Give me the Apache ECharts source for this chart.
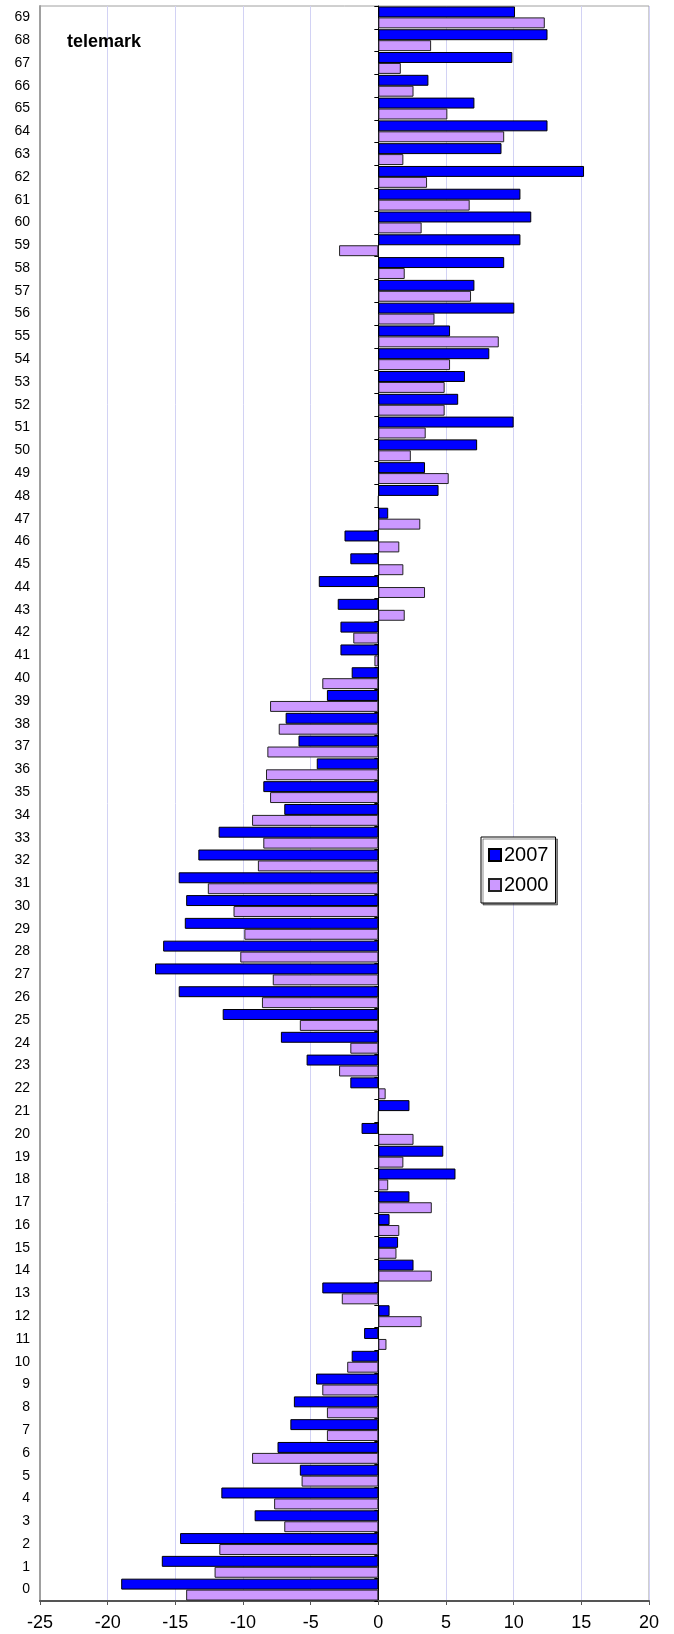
<!DOCTYPE html>
<html>
<head>
<meta charset="utf-8">
<title>telemark</title>
<script src="https://cdn.jsdelivr.net/npm/echarts@6/dist/echarts.min.js"></script>
<style>
  html, body { margin: 0; padding: 0; background: #fff; }
  #chart { width: 674px; height: 1634px; }
</style>
</head>
<body>
<div id="chart"></div>
<script>
// 类目 0..69（自下而上）
const categories = ['0','1','2','3','4','5','6','7','8','9',
  '10','11','12','13','14','15','16','17','18','19',
  '20','21','22','23','24','25','26','27','28','29',
  '30','31','32','33','34','35','36','37','38','39',
  '40','41','42','43','44','45','46','47','48','49',
  '50','51','52','53','54','55','56','57','58','59',
  '60','61','62','63','64','65','66','67','68','69'];

// 2007
const values2007 = [-19.0, -16.0, -14.65, -9.14, -11.6, -5.8, -7.45, -6.5, -6.24, -4.6,
  -1.97, -1.05, 0.83, -4.14, 2.6, 1.46, 0.83, 2.3, 5.7, 4.8,
  -1.24, 2.3, -2.07, -5.3, -7.2, -11.5, -14.75, -16.5, -15.9, -14.3,
  -14.2, -14.75, -13.3, -11.8, -6.95, -8.5, -4.55, -5.9, -6.85, -3.8,
  -1.97, -2.8, -2.8, -3.0, -4.4, -2.07, -2.5, 0.73, 4.45, 3.45,
  7.3, 10.0, 5.9, 6.4, 8.2, 5.3, 10.05, 7.1, 9.3, 10.5,
  11.3, 10.5, 15.2, 9.1, 12.5, 7.1, 3.7, 9.9, 12.5, 10.1];

// 2000
const values2000 = [-14.2, -12.1, -11.75, -6.95, -7.7, -5.67, -9.33, -3.8, -3.8, -4.14,
  -2.3, 0.6, 3.2, -2.7, 3.95, 1.34, 1.55, 3.95, 0.73, 1.85,
  2.6, 0, 0.54, -2.9, -2.07, -5.8, -8.6, -7.8, -10.2, -9.9,
  -10.7, -12.6, -8.9, -8.5, -9.33, -8.0, -8.3, -8.2, -7.36, -8.0,
  -4.14, -0.29, -1.85, 1.95, 3.45, 1.85, 1.55, 3.1, 0, 5.2,
  2.4, 3.5, 4.9, 4.9, 5.3, 8.9, 4.15, 6.85, 1.95, -2.9,
  3.2, 6.75, 3.6, 1.85, 9.3, 5.1, 2.6, 1.66, 3.9, 12.3];

const seriesNames = ['2007', '2000'];
const xTicks = { min: -25, max: 20, interval: 5 };

(function(){
  const FONT = '"Liberation Sans", Arial, sans-serif';
  const chart = echarts.init(document.getElementById('chart'), null, {renderer: 'canvas'});

  const option = {
    backgroundColor: '#fff',
    animation: false,
    title: {
      text: 'telemark',
      left: 62, top: 28,
      textStyle: {fontFamily: FONT, fontSize: 18, fontWeight: 'bold', color: '#000'}
    },
    legend: {
      data: seriesNames,
      orient: 'vertical',
      left: 481, top: 837,
      padding: [8, 7, 8, 7],
      itemWidth: 12, itemHeight: 12, itemGap: 10,
      icon: 'rect',
      backgroundColor: '#fff',
      borderColor: '#000', borderWidth: 1,
      shadowColor: 'rgba(0,0,0,0.45)', shadowBlur: 0, shadowOffsetX: 2, shadowOffsetY: 2,
      textStyle: {fontFamily: FONT, fontSize: 20, color: '#000', padding: [0, 0, 0, -2]}
    },
    grid: {
      left: 40, right: 25, top: 6, bottom: 33,
      show: true, borderColor: '#a0a0a0', borderWidth: 1
    },
    xAxis: {
      type: 'value',
      min: xTicks.min, max: xTicks.max, interval: xTicks.interval,
      axisLine: {show: true, onZero: false, lineStyle: {color: '#555', width: 2}},
      axisTick: {show: true, length: 4, lineStyle: {color: '#555'}},
      axisLabel: {fontFamily: FONT, fontSize: 18, color: '#000', margin: 13},
      splitLine: {show: true, lineStyle: {color: '#d2d2f4', width: 1}}
    },
    yAxis: [
      {
        // 左侧标签
        type: 'category',
        data: categories,
        position: 'left',
        axisLine: {show: true, onZero: false, lineStyle: {color: '#a0a0a0', width: 2}},
        axisTick: {show: false},
        axisLabel: {fontFamily: FONT, fontSize: 14, color: '#000', margin: 10, interval: 0},
        splitLine: {show: false}
      },
      {
        // 零线及刻度
        type: 'category',
        data: categories,
        position: 'left',
        axisLine: {show: true, onZero: true, lineStyle: {color: '#000', width: 1}},
        axisTick: {show: true, length: 4, interval: 0, lineStyle: {color: '#000'}},
        axisLabel: {show: false},
        splitLine: {show: false}
      }
    ],
    series: [
      {
        name: seriesNames[0],
        type: 'bar',
        data: values2007,
        barGap: '0%',
        barCategoryGap: '4%',
        itemStyle: {color: '#0000ff', borderColor: '#000', borderWidth: 1}
      },
      {
        name: seriesNames[1],
        type: 'bar',
        data: values2000,
        barGap: '0%',
        barCategoryGap: '4%',
        itemStyle: {color: '#cc99ff', borderColor: '#222', borderWidth: 1}
      }
    ]
  };

  chart.setOption(option);
  window.addEventListener('resize', () => chart.resize());
})();
</script>
</body>
</html>
